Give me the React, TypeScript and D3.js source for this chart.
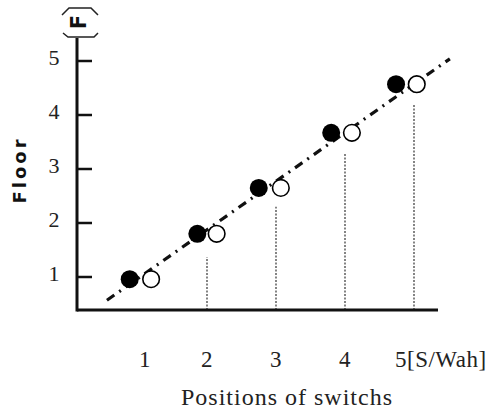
import { line, scaleLinear } from "d3";

// switch position on the x axis, floor on the y axis
const switchTicks = [1, 2, 3, 4, 5];
const switchLabels = ["1", "2", "3", "4", "5[S/Wah]"];
const floorTicks = [1, 2, 3, 4, 5];

const filledX = [0.88, 1.86, 2.75, 3.8, 4.74];
const filledY = [0.96, 1.8, 2.65, 3.67, 4.57];
const openX = [1.19, 2.14, 3.07, 4.1, 5.04];
const openY = [0.96, 1.8, 2.65, 3.67, 4.57];

// dotted drop lines under each pair (none under switch 1)
const dropX = [2, 3, 4, 5];
const dropTop = [1.37, 2.3, 3.3, 4.19];

const trendX = [0.55, 5.52];
const trendY = [0.57, 5.04];

const width = 498;
const height = 411;

const serif = "Liberation Serif";
const sans = "DejaVu Sans";

export default function App() {
  const x = scaleLinear().domain([0, 5]).range([69, 414]);
  const y = scaleLinear().domain([0, 5]).range([331, 61]);
  const xMin = x.invert(77);
  const xMax = x.invert(438);
  const yMin = y.invert(310);
  const yMax = y.invert(38);

  const trend = line<number>()
    .x((d) => x(trendX[d]))
    .y((d) => y(trendY[d]));

  return (
    <svg
      width={width}
      height={height}
      viewBox={`0 0 ${width} ${height}`}
      style={{ position: "absolute", left: 0, top: 0, background: "#fff" }}
    >
      {/* drop lines */}
      {dropX.map((d, i) => (
        <line
          key={`drop-${d}`}
          x1={x(d)}
          x2={x(d)}
          y1={y(yMin)}
          y2={y(dropTop[i])}
          stroke="#333"
          strokeWidth={1.2}
          strokeDasharray="2,1.5"
        />
      ))}

      {/* trend line */}
      <path
        d={trend([0, 1]) ?? ""}
        fill="none"
        stroke="#111"
        strokeWidth={3.2}
        strokeDasharray="9,6,2,6"
      />

      {/* axes */}
      <line x1={x(xMin)} x2={x(xMax)} y1={y(yMin)} y2={y(yMin)} stroke="#111" strokeWidth={3} />
      <line x1={x(xMin)} x2={x(xMin)} y1={y(yMin) + 1.5} y2={y(yMax)} stroke="#111" strokeWidth={3} />
      {floorTicks.map((t) => (
        <g key={`yt-${t}`}>
          <line x1={x(xMin)} x2={x(xMin) + 15} y1={y(t)} y2={y(t)} stroke="#111" strokeWidth={2.5} />
          <text
            x={x(xMin) - 23}
            y={y(t) - 4}
            textAnchor="middle"
            dominantBaseline="central"
            style={{ fontFamily: serif }}
            fontSize={22}
            fill="#222"
          >
            {t}
          </text>
        </g>
      ))}
      {switchTicks.map((t, i) => (
        <text
          key={`xt-${t}`}
          x={i === switchLabels.length - 1 ? x(t) - 19 : x(t) + (i === 0 ? 7 : 0)}
          y={367}
          textAnchor={i === switchLabels.length - 1 ? "start" : "middle"}
          style={{ fontFamily: serif }}
          fontSize={23}
          letterSpacing={0.5}
          fill="#222"
        >
          {switchLabels[i]}
        </text>
      ))}

      {/* axis titles */}
      <text
        x={287}
        y={405}
        textAnchor="middle"
        style={{ fontFamily: serif }}
        fontSize={24}
        letterSpacing={1}
        fill="#222"
      >
        Positions of switchs
      </text>
      <text
        transform="translate(19,170) rotate(-90)"
        textAnchor="middle"
        dominantBaseline="central"
        style={{ fontFamily: sans }}
        fontWeight="bold"
        fontSize={18}
        letterSpacing={3}
        fill="#111"
      >
        Floor
      </text>
      <g transform={`translate(${x(xMin) + 2},22)`}>
        <path d="M-17,-7 L-10,-14 L12,-14 L19,-7" fill="none" stroke="#222" strokeWidth={1.5} />
        <path d="M-16,11 L-11,15 L15,15 L19,11" fill="none" stroke="#222" strokeWidth={1.5} />
        <text
          transform="rotate(-90)"
          textAnchor="middle"
          dominantBaseline="central"
          style={{ fontFamily: sans }}
          fontSize={21}
          fontWeight="bold"
          fill="#111"
        >
          F
        </text>
      </g>

      {/* points */}
      {filledX.map((d, i) => (
        <circle key={`f-${i}`} cx={x(d)} cy={y(filledY[i])} r={9} fill="#000" />
      ))}
      {openX.map((d, i) => (
        <circle
          key={`o-${i}`}
          cx={x(d)}
          cy={y(openY[i])}
          r={8.3}
          fill="#fff"
          stroke="#000"
          strokeWidth={1.6}
        />
      ))}
    </svg>
  );
}
